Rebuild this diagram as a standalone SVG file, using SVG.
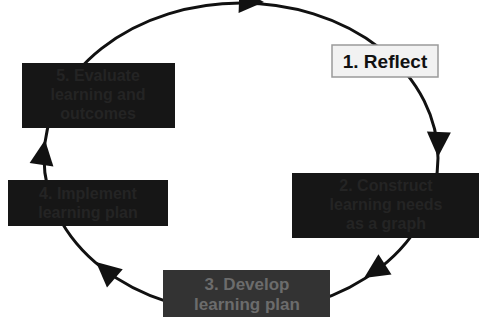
<svg xmlns="http://www.w3.org/2000/svg" xmlns:xlink="http://www.w3.org/1999/xlink" width="479" height="322" viewBox="0 0 479 322">
<style>
.dark{fill:#161616;stroke:none}
.mid{fill:#333;stroke:none}
.dt{font-family:"Liberation Sans",Arial,sans-serif;font-weight:bold;font-size:16px;fill:#242424;text-anchor:middle}
.mt{font-family:"Liberation Sans",Arial,sans-serif;font-weight:bold;font-size:17px;fill:#6c6c6c;text-anchor:middle}
.lt{font-family:"Liberation Sans",Arial,sans-serif;font-weight:bold;font-size:19px;fill:#111;text-anchor:middle}
</style>
<defs>
<path id="ah" d="M0,0 L-25,-12 L-25,12 Z" fill="#111"/>
</defs>
<rect width="479" height="322" fill="#fff"/>
<g id="connectors">
<ellipse cx="241" cy="158" rx="197" ry="155" fill="none" stroke="#111" stroke-width="3"/>
<use xlink:href="#ah" transform="translate(264,2) rotate(2)"/>
<use xlink:href="#ah" transform="translate(438,157) rotate(92)"/>
<use xlink:href="#ah" transform="translate(364,278) rotate(147)"/>
<use xlink:href="#ah" transform="translate(96,262) rotate(-139)"/>
<use xlink:href="#ah" transform="translate(45,140) rotate(-82)"/>
</g>
<g id="n1">
<rect x="332" y="45" width="106" height="32" fill="#f2f2f2" stroke="#9a9a9a" stroke-width="1.5"/>
<text class="lt" x="385" y="68">1. Reflect</text>
</g>
<g id="n2">
<rect class="dark" x="292" y="173" width="187" height="65"/>
<text class="dt" x="386" y="191">2. Construct</text>
<text class="dt" x="386" y="210">learning needs</text>
<text class="dt" x="386" y="229">as a graph</text>
</g>
<g id="n3">
<rect class="mid" x="163" y="270" width="167" height="47"/>
<text class="mt" x="247" y="290">3. Develop</text>
<text class="mt" x="247" y="310">learning plan</text>
</g>
<g id="n4">
<rect class="dark" x="8" y="180" width="160" height="46"/>
<text class="dt" x="88" y="199">4. Implement</text>
<text class="dt" x="88" y="218">learning plan</text>
</g>
<g id="n5">
<rect class="dark" x="22" y="63" width="153" height="65"/>
<text class="dt" x="98" y="81">5. Evaluate</text>
<text class="dt" x="98" y="100">learning and</text>
<text class="dt" x="98" y="119">outcomes</text>
</g>
</svg>
